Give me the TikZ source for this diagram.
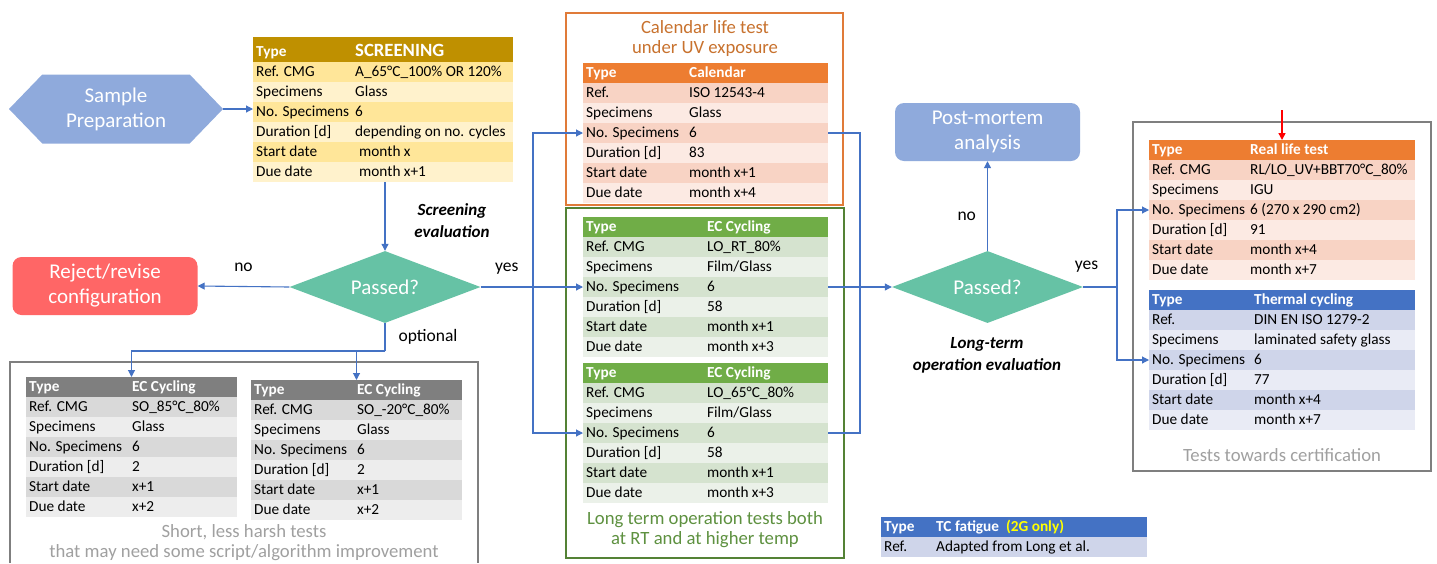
\documentclass[tikz,border=0pt]{standalone}
\usepackage{fontspec}
\setmainfont{Carlito}
\usepackage{tikz}
\usetikzlibrary{positioning}
\usetikzlibrary{calc,arrows.meta}
\usetikzlibrary{shapes.geometric,shapes.symbols}
\definecolor{flowblue}{HTML}{4472C4}
\definecolor{prepblue}{HTML}{8FAADC}
\definecolor{passgreen}{HTML}{66C2A5}
\definecolor{rejectred}{HTML}{FF6666}
\definecolor{scrhead}{HTML}{BF9000}
\definecolor{scrdark}{HTML}{FFE699}
\definecolor{scrlight}{HTML}{FFF2CC}
\definecolor{orghead}{HTML}{ED7D31}
\definecolor{orgdark}{HTML}{F8D3C4}
\definecolor{orglight}{HTML}{FCEAE3}
\definecolor{grnhead}{HTML}{70AD47}
\definecolor{grndark}{HTML}{D5E3CF}
\definecolor{grnlight}{HTML}{EBF1E9}
\definecolor{gryhead}{HTML}{7F7F7F}
\definecolor{grydark}{HTML}{D9D9D9}
\definecolor{grylight}{HTML}{EDEDED}
\definecolor{bluhead}{HTML}{4472C4}
\definecolor{bludark}{HTML}{CFD5EA}
\definecolor{blulight}{HTML}{E9EBF5}
\definecolor{tcyellow}{HTML}{FFFF00}
\definecolor{captgray}{HTML}{A0A0A0}
\definecolor{calorange}{HTML}{C8722E}
\definecolor{calframe}{HTML}{E07B39}
\definecolor{ltgreen}{HTML}{548235}
\definecolor{ltgreentext}{HTML}{5E9140}
\newcommand\tblfont{\fontsize{15.3}{17}\selectfont}
\newcommand\shapefont{\fontsize{21}{25}\selectfont}
\newcommand\captfont{\fontsize{18.7}{20}\selectfont}
\newcommand\evalfont{\fontsize{17}{22}\selectfont\bfseries\itshape}
\tikzset{
	tabrow/.style={rectangle, anchor=north west, minimum height=20, inner sep=0, outer sep=0},
	tabtxt/.style={anchor=west, inner sep=0, text height=11pt, text depth=3pt, font=\tblfont},
	flow/.style={draw=flowblue, line width=1.1pt, -{Triangle[length=7pt,width=7pt]}},
	link/.style={draw=flowblue, line width=1.1pt},
	lbl/.style={inner sep=0, font=\fontsize{17.5}{20}\selectfont},
	passbox/.style={diamond, aspect=2.65, fill=passgreen, minimum width=191, minimum height=72, inner sep=0, text=white, font=\shapefont},
	roundbox/.style={rectangle, rounded corners=9, minimum width=185, minimum height=58, inner sep=0, text=white, align=center, font=\shapefont},
	capt/.style={align=center, inner sep=0, font=\captfont},
	frame/.style={line width=1.5pt}
}
% one row per key/value pair, the first pair is the header
\newcommand\testtable[7]{%
	\foreach \key/\val [count=\i from 0] in {#7}{
		\ifnum\i=0 \def\rowfill{#6head}\else\ifodd\i\relax\def\rowfill{#6dark}\else\def\rowfill{#6light}\fi\fi
		\node[tabrow, fill=\rowfill, minimum width=#4] (#1-\i) at (#2,#3+20*\i) {};
		\node[tabtxt] (#1-\i-k) at ($(#1-\i.west)+(3,0)$) {\ifnum\i=0 \bfseries\color{white}\fi\key};
		\node[tabtxt] (#1-\i-v) at ($(#1-\i.west)+(#5,0)$) {\ifnum\i=0 \bfseries\color{white}\fi\val};
	}
}
\begin{document}
\begin{tikzpicture}[x=1pt,y=-1pt]
	\fill[white] (0,0) rectangle (1437,563);
	\useasboundingbox (0,0) rectangle (1437,563);
	% frames
	\draw[frame, draw=gryhead] (10,563) -- (10,362) -- (478,362) -- (478,563);
	\draw[frame, draw=calframe] (566,13) rectangle (843,205);
	\draw[frame, draw=ltgreen] (566,208) rectangle (844,558);
	\draw[frame, draw=gryhead] (1133,122) rectangle (1431,471);
	% shapes
	\node[signal, signal to=west and east, signal pointer angle=92, fill=prepblue, minimum width=214, minimum height=69, inner sep=0, text=white, align=center, font=\shapefont] (prep) at (116,109) {Sample\\Preparation};
	\node[passbox] (pass1) at (385,287) {Passed?};
	\node[roundbox, fill=rejectred] (reject) at (105,286) {Reject/revise\\configuration};
	\node[passbox] (pass2) at (987.5,287) {Passed?};
	\node[roundbox, fill=prepblue] (post) at (987.5,132) {Post-mortem\\analysis};
	% tables
	\fill[scrhead] (253,37) rectangle (513,42);
	\testtable{scr}{253}{42}{260}{102}{scr}{Type/{\fontsize{18.7}{20}\selectfont SCREENING}, Ref. CMG/A\_65°C\_100\% OR 120\%, Specimens/Glass, No. Specimens/6, Duration [d]/depending on no. cycles, Start date/\hspace{4pt}month x, Due date/\hspace{4pt}month x+1}
	\testtable{cal}{583}{63}{245}{106}{org}{Type/Calendar, Ref./ISO 12543-4, Specimens/Glass, No. Specimens/6, Duration [d]/83, Start date/month x+1, Due date/month x+4}
	\testtable{lort}{583}{217}{245}{124}{grn}{Type/EC Cycling, Ref. CMG/LO\_RT\_80\%, Specimens/{Film/Glass}, No. Specimens/6, Duration [d]/58, Start date/month x+1, Due date/month x+3}
	\testtable{lo65}{583}{363}{245}{124}{grn}{Type/EC Cycling, Ref. CMG/LO\_65°C\_80\%, Specimens/{Film/Glass}, No. Specimens/6, Duration [d]/58, Start date/month x+1, Due date/month x+3}
	\testtable{so85}{26}{377}{211}{106}{gry}{Type/EC Cycling, Ref. CMG/SO\_85°C\_80\%, Specimens/Glass, No. Specimens/6, Duration [d]/2, Start date/x+1, Due date/x+2}
	\testtable{so20}{251}{380}{211}{106}{gry}{Type/EC Cycling, Ref. CMG/SO\_-20°C\_80\%, Specimens/Glass, No. Specimens/6, Duration [d]/2, Start date/x+1, Due date/x+2}
	\testtable{rl}{1149}{140}{266}{101}{org}{Type/Real life test, Ref. CMG/{RL/LO\_UV+BBT70°C\_80\%}, Specimens/IGU, No. Specimens/6 (270 x 290 cm2), Duration [d]/91, Start date/month x+4, Due date/month x+7}
	\testtable{tc}{1149}{290}{266}{105}{blu}{Type/Thermal cycling, Ref./DIN EN ISO 1279-2, Specimens/laminated safety glass, No. Specimens/6, Duration [d]/77, Start date/month x+4, Due date/month x+7}
	\testtable{tcf}{881}{517}{266}{55}{blu}{Type/{TC fatigue\ \ {\color{tcyellow}(2G only)}}, Ref./Adapted from Long et al.}
	% captions
	\node[capt, text=calorange] (caltitle) at (705,39) {Calendar life test\\under UV exposure};
	\node[capt, text=ltgreentext] (ltcapt) at (705,530) {Long term operation tests both\\at RT and at higher temp};
	\node[capt, text=captgray] (shortcapt) at (244,543) {Short, less harsh tests\\that may need some script/algorithm improvement};
	\node[capt, text=captgray] (certcapt) at (1282,455) {Tests towards certification};
	\node[align=center, inner sep=0, font=\evalfont] (screval) at (452,221) {Screening\\evaluation};
	\node[align=center, inner sep=0, font=\evalfont] (lteval) at (987,355) {Long-term\\operation evaluation};
	% connectors
	\coordinate (bus1) at (533,287);
	\coordinate (opt) at (385,351);
	\coordinate (bus2) at (860,287);
	\coordinate (bus3) at (1117,287);
	\coordinate (redtop) at (1282,110);
	\draw[flow] (prep.east) -- (prep.east -| scr-3.west);
	\draw[flow] (pass1.north |- scr-6.south) -- (pass1.north);
	\draw[flow] (pass1.west) -- node[lbl, above=14pt] (no1) {no} (reject.east);
	\draw[link] (pass1.east) -- node[lbl, above=12pt] (yes1) {yes} (bus1);
	\draw[flow] (bus1) |- (cal-3.west);
	\draw[flow] (bus1) |- (lort-3.west);
	\draw[flow] (bus1) |- (lo65-3.west);
	\draw[link] (pass1.south) -- node[lbl, right=13pt] (opt1) {optional} (opt);
	\draw[flow] (opt) -| (so85-0.north);
	\draw[flow] (opt) -| (so20-0.north);
	\draw[link] (cal-3.east) -| (bus2);
	\draw[link] (lo65-3.east) -| (bus2);
	\draw[link] (lort-3.east) -- (bus2);
	\draw[flow] (bus2) -- (pass2.west);
	\draw[flow] (pass2.north) -- node[lbl, pos=0.39, left=11pt] (no2) {no} (post.south);
	\draw[link] (pass2.east) -- node[lbl, pos=0.1, above=14pt] (yes2) {yes} (bus3);
	\draw[flow] (bus3) |- (rl-3.west);
	\draw[flow] (bus3) |- (tc-3.west);
	\draw[flow, draw=red, line width=1.5pt] (redtop) -- (rl-0.north);
\end{tikzpicture}
\end{document}
